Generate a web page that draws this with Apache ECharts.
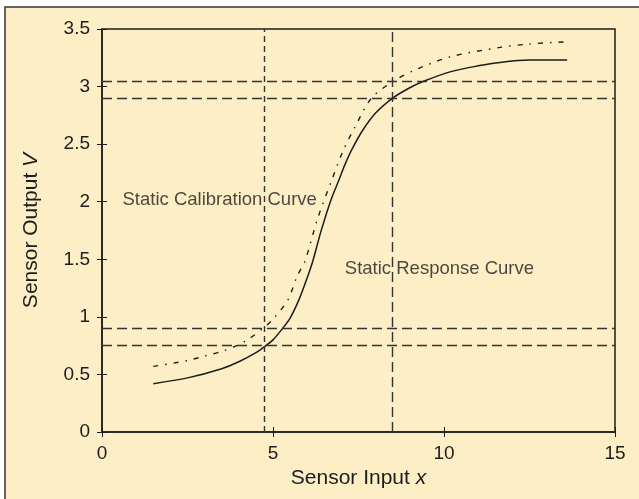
<!DOCTYPE html>
<html>
<head>
<meta charset="utf-8">
<title>Sensor Static Curves</title>
<script src="https://cdn.jsdelivr.net/npm/echarts@6/dist/echarts.min.js"></script>
<style>
  html, body { margin: 0; padding: 0; background: #ffffff; }
  #chart { width: 639px; height: 499px; }
</style>
</head>
<body>
<div id="chart"></div>
<script>
// Static response curve (solid): [input x, output V]
const responseCurve = [
  [1.5, 0.42], [2.5, 0.47], [3.5, 0.55], [4.0, 0.61], [4.5, 0.69],
  [4.79, 0.75], [5.0, 0.80], [5.28, 0.90], [5.5, 0.99], [5.76, 1.15],
  [6.0, 1.34], [6.17, 1.49], [6.4, 1.74], [6.7, 2.02], [6.93, 2.19],
  [7.1, 2.32], [7.3, 2.45], [7.6, 2.61], [8.0, 2.77], [8.5, 2.90],
  [9.0, 2.99], [9.44, 3.05], [10.2, 3.13], [11.0, 3.18], [11.64, 3.21],
  [12.5, 3.23], [13.6, 3.23]
];

// Static calibration curve (dash-dot): [input x, output V]
const calibrationCurve = [
  [1.5, 0.57], [2.5, 0.62], [3.0, 0.66], [3.5, 0.70], [3.94, 0.75],
  [4.3, 0.81], [4.71, 0.90], [5.0, 0.98], [5.44, 1.15], [5.7, 1.35],
  [5.94, 1.49], [6.3, 1.85], [6.72, 2.19], [7.06, 2.45], [7.4, 2.65],
  [7.88, 2.90], [8.54, 3.05], [9.2, 3.15], [10.2, 3.26], [11.64, 3.34],
  [12.5, 3.37], [13.65, 3.39]
];

// Reference levels
const inputLevels = [4.75, 8.5];
const outputLevels = [0.75, 0.9, 2.9, 3.05];

// Axis ranges and ticks
const xRange = [0, 15];
const xStep = 5;
const yRange = [0, 3.5];
const yStep = 0.5;

// Curve captions, anchored in data coordinates
const captions = [
  { text: 'Static Calibration Curve', at: [0.6, 2.02] },
  { text: 'Static Response Curve', at: [7.1, 1.42] }
];

const ink = '#1c1c1c';
const guide = '#333333';
const fontFamily = 'Liberation Sans, Arial, Helvetica, sans-serif';

const chart = echarts.init(document.getElementById('chart'), null, { renderer: 'canvas' });

const tickStyle = { show: true, inside: true, length: 5, lineStyle: { color: ink, width: 1 } };

const verticalGuides = inputLevels.map((v, i) => ({
  xAxis: v,
  lineStyle: { type: i === 0 ? [6, 4] : [10, 5], color: guide, width: 1.4 }
}));
const horizontalGuides = outputLevels.map(v => ({
  yAxis: v,
  lineStyle: { type: [10, 5], color: guide, width: 1.4 }
}));

const titleRich = {
  n: { fontSize: 21, color: ink, fontFamily },
  i: { fontSize: 21, color: ink, fontStyle: 'italic', fontFamily }
};

const option = {
  backgroundColor: '#ffffff',
  animation: false,
  textStyle: { fontFamily },
  graphic: {
    elements: [{
      type: 'rect',
      z: -100,
      silent: true,
      shape: { x: 5, y: 7, width: 660, height: 520 },
      style: { fill: '#fdeec6', stroke: '#333333', lineWidth: 1.5 }
    }]
  },
  grid: {
    left: 102, right: 24, top: 29, bottom: 67,
    show: true, borderColor: ink, borderWidth: 1.5, backgroundColor: 'transparent'
  },
  xAxis: [{
    type: 'value', min: xRange[0], max: xRange[1], interval: xStep,
    position: 'bottom',
    axisLine: { show: true, lineStyle: { color: ink, width: 1.5 } },
    axisTick: tickStyle,
    splitLine: { show: false },
    axisLabel: { color: ink, fontSize: 19, margin: 12, fontFamily },
    name: '{n|Sensor Input }{i|x}',
    nameLocation: 'middle',
    nameGap: 36,
    nameTextStyle: { rich: titleRich }
  }, {
    type: 'value', min: xRange[0], max: xRange[1], interval: xStep,
    position: 'top',
    axisLine: { show: false },
    axisTick: tickStyle,
    axisLabel: { show: false },
    splitLine: { show: false }
  }],
  yAxis: [{
    type: 'value', min: yRange[0], max: yRange[1], interval: yStep,
    position: 'left',
    axisLine: { show: true, lineStyle: { color: ink, width: 1.5 } },
    axisTick: tickStyle,
    splitLine: { show: false },
    axisLabel: { color: ink, fontSize: 19, margin: 12, fontFamily },
    name: '{n|Sensor Output }{i|V}',
    nameLocation: 'middle',
    nameRotate: 90,
    nameGap: 60,
    nameTextStyle: { rich: titleRich }
  }, {
    type: 'value', min: yRange[0], max: yRange[1], interval: yStep,
    position: 'right',
    axisLine: { show: false },
    axisTick: tickStyle,
    axisLabel: { show: false },
    splitLine: { show: false }
  }],
  series: [
    {
      name: 'Static Response Curve',
      type: 'line',
      data: responseCurve,
      smooth: 0.3,
      showSymbol: false,
      lineStyle: { color: ink, width: 1.5 },
      markLine: {
        silent: true,
        symbol: 'none',
        label: { show: false },
        data: verticalGuides.concat(horizontalGuides)
      },
      z: 3
    },
    {
      name: 'Static Calibration Curve',
      type: 'line',
      data: calibrationCurve,
      smooth: 0.3,
      showSymbol: false,
      lineStyle: { color: ink, width: 1.4, type: [5, 7, 1.5, 7] },
      z: 3
    },
    {
      name: 'captions',
      type: 'scatter',
      symbolSize: 0,
      silent: true,
      data: captions.map(c => ({ value: c.at, caption: c.text })),
      label: {
        show: true,
        position: 'right',
        distance: 0,
        color: ink,
        fontSize: 18.5,
        fontFamily,
        formatter: p => p.data.caption
      },
      z: 4
    }
  ]
};

chart.setOption(option);
</script>
</body>
</html>
